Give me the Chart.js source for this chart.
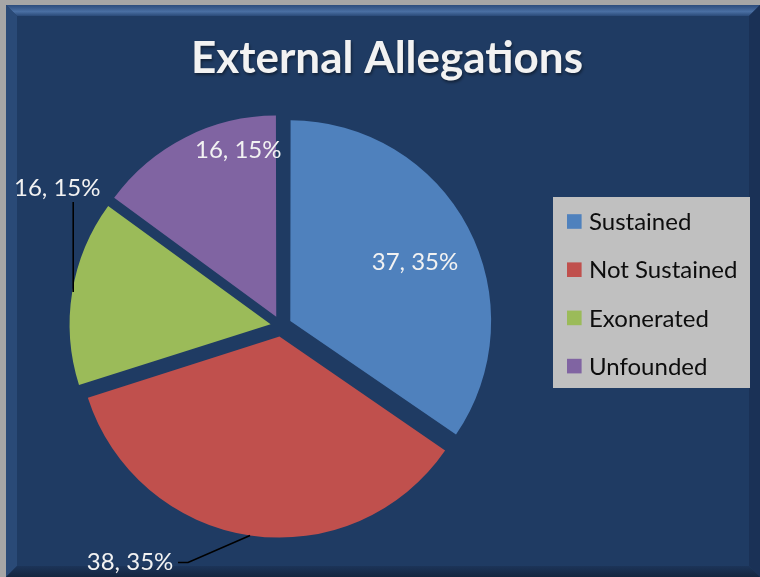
<!DOCTYPE html>
<html><head><meta charset="utf-8">
<script src="https://cdn.jsdelivr.net/npm/chart.js@4.4.0/dist/chart.umd.min.js"></script>
<style>html,body{margin:0;padding:0;background:#a6a6a6;overflow:hidden}
#wrap{position:relative;width:760px;height:577px}</style>
</head><body><div id="wrap"><canvas id="c" width="760" height="577"></canvas></div>
<script>
const titleText = 'External Allegations';
const categories = ['Sustained', 'Not Sustained', 'Exonerated', 'Unfounded'];
const counts = [37, 38, 16, 16];
const percentLabels = ['35%', '35%', '15%', '15%'];
const sliceColors = ['#4F81BD', '#C0504D', '#9BBB59', '#8064A2'];

// label placement relative to the outer-edge midpoint of each slice
const labelPlacement = [
  {dx: -53, dy: 35},
  {dx: -120, dy: 27, leader: [[0, 0], [-62, 27], [-72, 27]]},
  {dx: -15, dy: -104, leader: [[1, 0], [1, -90]]},
  {dx: 53, dy: 13}
];

const NAVY = '#1F3B63';
const FONT = 'Lato, "Open Sans", sans-serif';

const framePlugin = {
  id: 'frame',
  beforeDraw(chart) {
    const ctx = chart.ctx;
    const W = chart.width, H = chart.height;
    ctx.save();
    ctx.fillStyle = '#a6a6a6';
    ctx.fillRect(0, 0, W, H);
    const L = 6, T = 5, R = W, B = H, b = 11;
    ctx.fillStyle = NAVY;
    ctx.fillRect(L, T, R - L, B - T);
    // bevels
    let g = ctx.createLinearGradient(0, T, 0, T + b);
    g.addColorStop(0, '#2c4c7c');
    g.addColorStop(0.6, '#4a6fa3');
    g.addColorStop(1, '#2a4a78');
    ctx.fillStyle = g;
    ctx.beginPath(); ctx.moveTo(L, T); ctx.lineTo(R, T); ctx.lineTo(R - b, T + b); ctx.lineTo(L + b, T + b); ctx.closePath(); ctx.fill();
    ctx.fillStyle = '#2a4a77';
    ctx.beginPath(); ctx.moveTo(L, T); ctx.lineTo(L + b, T + b); ctx.lineTo(L + b, B - b); ctx.lineTo(L, B); ctx.closePath(); ctx.fill();
    ctx.fillStyle = '#1a3156';
    ctx.beginPath(); ctx.moveTo(R, T); ctx.lineTo(R - b, T + b); ctx.lineTo(R - b, B - b); ctx.lineTo(R, B); ctx.closePath(); ctx.fill();
    g = ctx.createLinearGradient(0, B - b, 0, B);
    g.addColorStop(0, '#1c3459');
    g.addColorStop(1, '#14263f');
    ctx.fillStyle = g;
    ctx.beginPath(); ctx.moveTo(L, B); ctx.lineTo(L + b, B - b); ctx.lineTo(R - b, B - b); ctx.lineTo(R, B); ctx.closePath(); ctx.fill();

    // title
    ctx.font = 'bold 44px ' + FONT;
    ctx.textAlign = 'center';
    ctx.textBaseline = 'alphabetic';
    ctx.shadowColor = 'rgba(0,0,0,0.45)';
    ctx.shadowOffsetX = 1; ctx.shadowOffsetY = 2; ctx.shadowBlur = 3;
    ctx.fillStyle = '#F2F2F2';
    ctx.fillText(titleText, 387, 73);
    ctx.shadowColor = 'transparent';

    // legend
    ctx.fillStyle = '#C0C0C0';
    ctx.fillRect(553, 197, 197, 191);
    const labels = chart.data.labels;
    const colors = chart.data.datasets[0].backgroundColor;
    ctx.font = '24px ' + FONT;
    ctx.textAlign = 'left';
    ctx.textBaseline = 'middle';
    labels.forEach((lab, i) => {
      const cy = 221.5 + i * 48.2;
      ctx.fillStyle = colors[i];
      ctx.fillRect(567, cy - 7.3, 14.6, 14.6);
      ctx.fillStyle = '#0d0d0d';
      ctx.fillText(lab, 589, cy + 1);
    });
    ctx.restore();
  }
};

const labelPlugin = {
  id: 'sliceLabels',
  afterDatasetsDraw(chart) {
    const ctx = chart.ctx;
    const meta = chart.getDatasetMeta(0);
    const ds = chart.data.datasets[0];
    ctx.save();
    ctx.font = '24px ' + FONT;
    ctx.textAlign = 'center';
    ctx.textBaseline = 'middle';
    meta.data.forEach((arc, i) => {
      const mid = (arc.startAngle + arc.endAngle) / 2;
      const off = (arc.options.offset || 0) / 4;
      const circ = arc.endAngle - arc.startAngle;
      const rOff = off * (1 - Math.sin(Math.min(Math.PI, circ)));
      const rr = off + arc.outerRadius + rOff;
      const ex = arc.x + Math.cos(mid) * rr;
      const ey = arc.y + Math.sin(mid) * rr;
      const p = labelPlacement[i];
      if (p.leader) {
        ctx.strokeStyle = '#000';
        ctx.lineWidth = 1.6;
        ctx.beginPath();
        p.leader.forEach((pt, k) => {
          if (k === 0) ctx.moveTo(ex + pt[0], ey + pt[1]);
          else ctx.lineTo(ex + pt[0], ey + pt[1]);
        });
        ctx.stroke();
      }
      ctx.fillStyle = '#F2F2F2';
      ctx.fillText(ds.data[i] + ', ' + percentLabels[i], ex + p.dx, ey + p.dy);
    });
    ctx.restore();
  }
};

new Chart(document.getElementById('c'), {
  type: 'pie',
  data: {
    labels: categories,
    datasets: [{
      data: counts,
      backgroundColor: sliceColors,
      borderWidth: 0,
      offset: 42
    }]
  },
  options: {
    responsive: false,
    animation: false,
    devicePixelRatio: 1,
    layout: {padding: {left: 10, right: 208, top: 106, bottom: 31}},
    plugins: {
      legend: {display: false},
      title: {display: false},
      tooltip: {enabled: false}
    }
  },
  plugins: [framePlugin, labelPlugin]
});
</script>
</body></html>
